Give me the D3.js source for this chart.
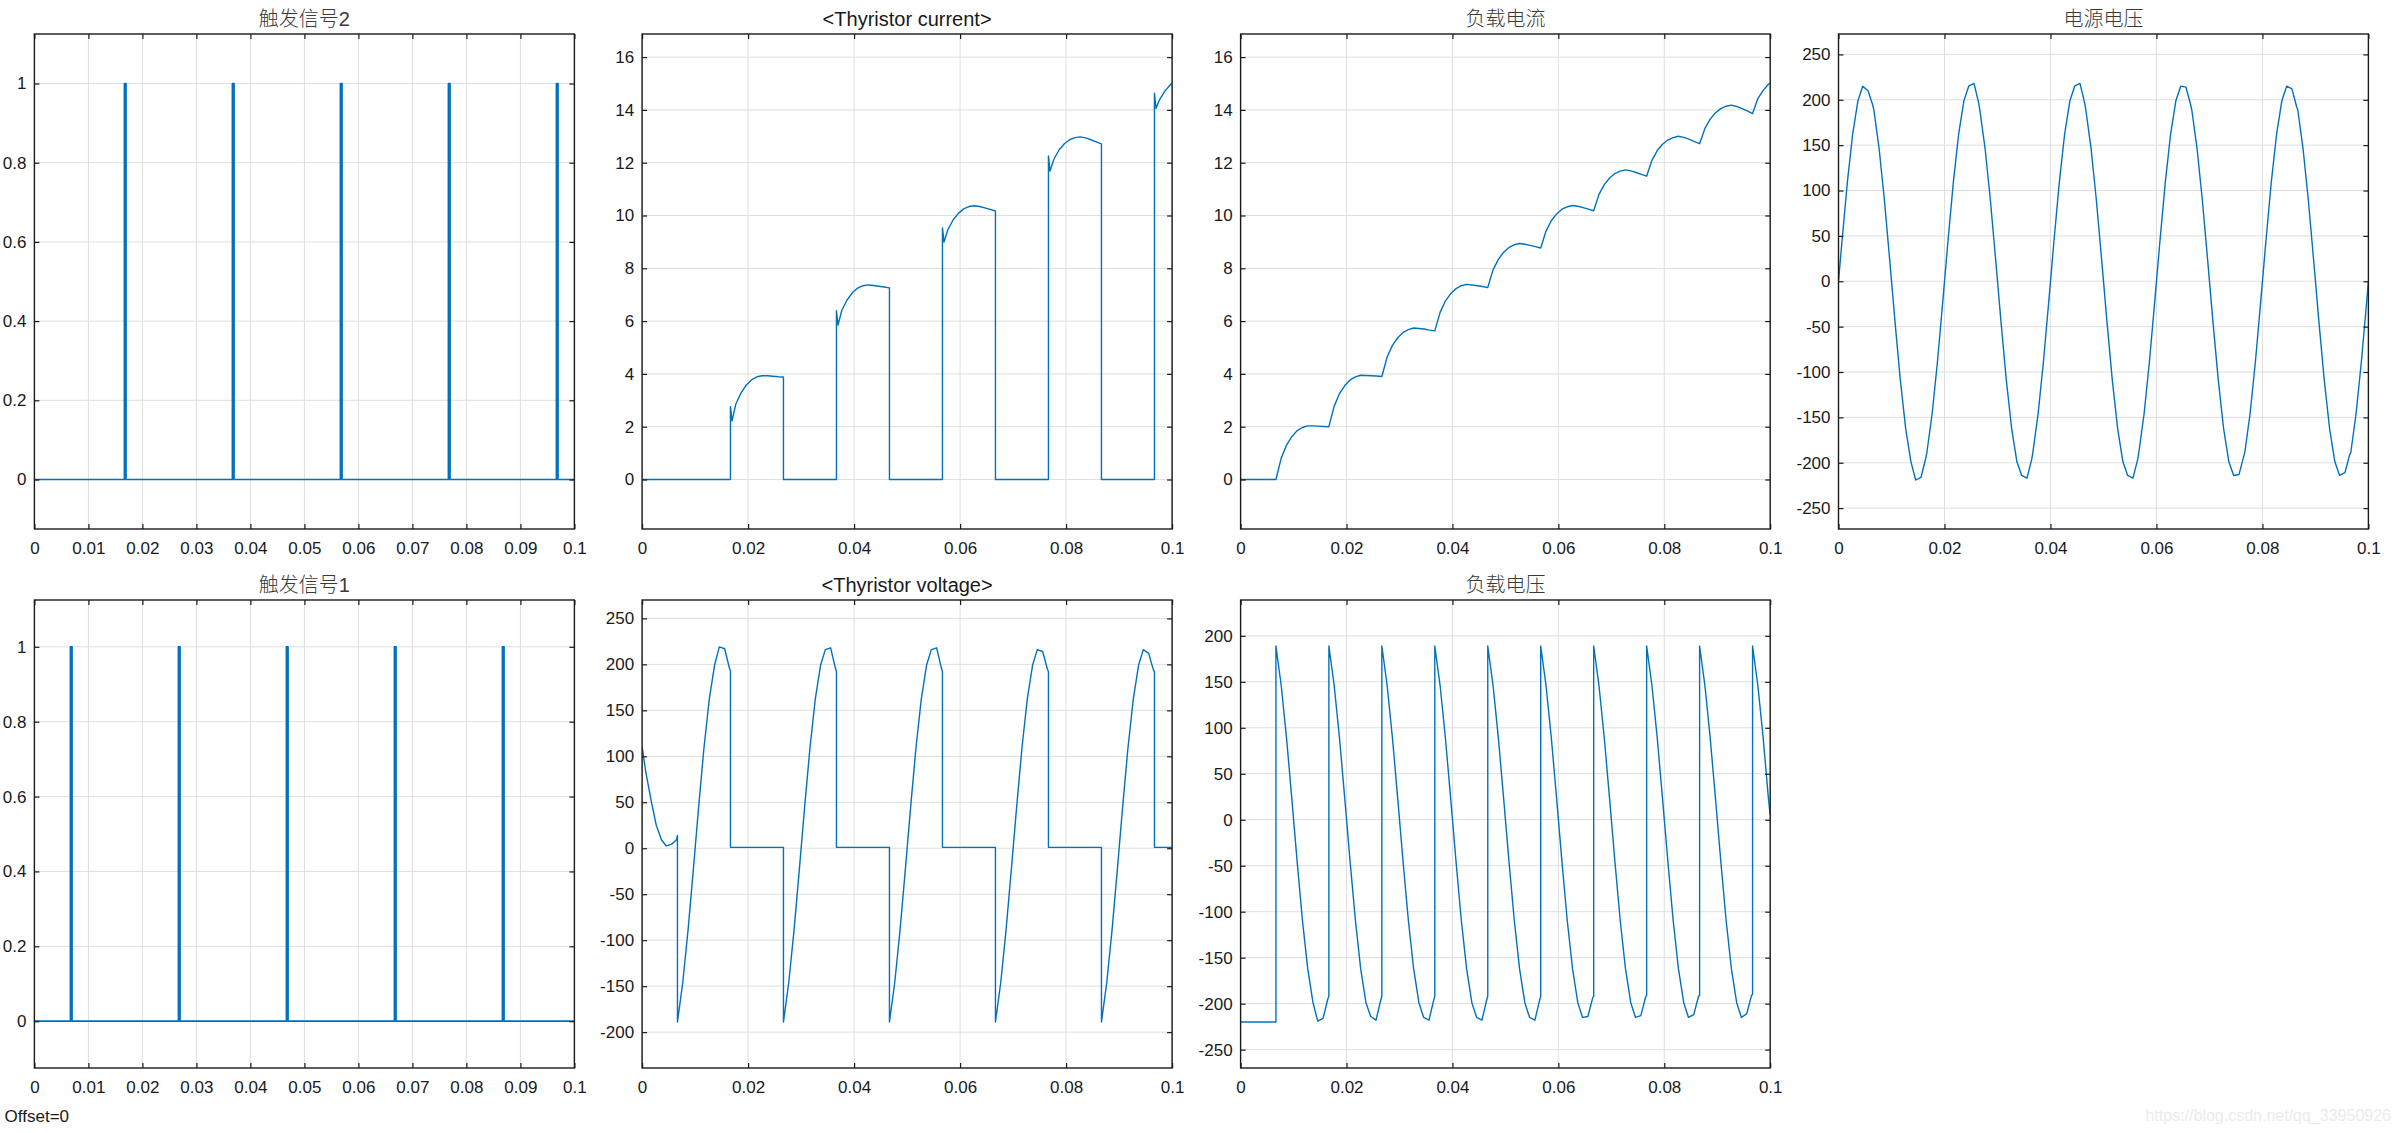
<!DOCTYPE html>
<html><head><meta charset="utf-8">
<script src="https://cdn.jsdelivr.net/npm/d3@7"></script>
<style>
html,body{margin:0;padding:0;background:#fff;}
svg{display:block;}
</style></head><body>
<svg id="c" width="2400" height="1133"></svg>
<script>
// ---------------- DATA ----------------
// Trigger pulses (start times, width and level)
const trig1Start = [0.00667, 0.02667, 0.04667, 0.06667, 0.08667];
const trig2Start = [0.01667, 0.03667, 0.05667, 0.07667, 0.09667];
const pulseWidth = 0.0003;
const pulseHigh = 1;
const pulseLow = 0;

// Source voltage 电源电压
const srcTime = [0, 0.00067, 0.00167, 0.00267, 0.00367, 0.00457, 0.00557, 0.00647,
  0.00667, 0.00767, 0.00867, 0.00967, 0.01067, 0.01167, 0.01267, 0.01367, 0.01457, 0.01557, 0.01647,
  0.01667, 0.01767, 0.01867, 0.01967, 0.02067, 0.02167, 0.02267, 0.02367, 0.02457, 0.02557, 0.02647,
  0.02667, 0.02767, 0.02867, 0.02967, 0.03067, 0.03167, 0.03267, 0.03367, 0.03457, 0.03557, 0.03647,
  0.03667, 0.03767, 0.03867, 0.03967, 0.04067, 0.04167, 0.04267, 0.04367, 0.04457, 0.04557, 0.04647,
  0.04667, 0.04767, 0.04867, 0.04967, 0.05067, 0.05167, 0.05267, 0.05367, 0.05457, 0.05557, 0.05647,
  0.05667, 0.05767, 0.05867, 0.05967, 0.06067, 0.06167, 0.06267, 0.06367, 0.06457, 0.06557, 0.06647,
  0.06667, 0.06767, 0.06867, 0.06967, 0.07067, 0.07167, 0.07267, 0.07367, 0.07457, 0.07557, 0.07647,
  0.07667, 0.07767, 0.07867, 0.07967, 0.08067, 0.08167, 0.08267, 0.08367, 0.08457, 0.08557, 0.08647,
  0.08667, 0.08767, 0.08867, 0.08967, 0.09067, 0.09167, 0.09267, 0.09367, 0.09457, 0.09557, 0.09647,
  0.09667, 0.09767, 0.09867, 0.09967, 0.1];
const srcVolt = [0, 45, 109, 162, 199, 215, 210, 194,
  189, 146, 89, 23, -45, -109, -162, -199, -219, -216, -195,
  -189, -146, -89, -23, 45, 109, 162, 199, 215, 218, 196,
  189, 146, 89, 23, -45, -109, -162, -199, -214, -217, -196,
  -189, -146, -89, -23, 45, 109, 162, 199, 215, 218, 196,
  189, 146, 89, 23, -45, -109, -162, -199, -214, -217, -196,
  -189, -146, -89, -23, 45, 109, 162, 199, 215, 214, 194,
  189, 146, 89, 23, -45, -109, -162, -199, -214, -213, -193,
  -189, -146, -89, -23, 45, 109, 162, 199, 215, 212, 192,
  189, 146, 89, 23, -45, -109, -162, -199, -214, -211, -191,
  -189, -146, -89, -23, 0];

// Thyristor voltage
const thyVTime = [0, 0.00067, 0.00167, 0.00267, 0.00367, 0.00457, 0.00557, 0.00647, 0.00667,
  0.00667, 0.00767, 0.00867, 0.00967, 0.01067, 0.01167, 0.01267, 0.01367, 0.01457, 0.01557, 0.01647, 0.01667,
  0.01667, 0.02667,
  0.02667, 0.02767, 0.02867, 0.02967, 0.03067, 0.03167, 0.03267, 0.03367, 0.03457, 0.03557, 0.03647, 0.03667,
  0.03667, 0.04667,
  0.04667, 0.04767, 0.04867, 0.04967, 0.05067, 0.05167, 0.05267, 0.05367, 0.05457, 0.05557, 0.05647, 0.05667,
  0.05667, 0.06667,
  0.06667, 0.06767, 0.06867, 0.06967, 0.07067, 0.07167, 0.07267, 0.07367, 0.07457, 0.07557, 0.07647, 0.07667,
  0.07667, 0.08667,
  0.08667, 0.08767, 0.08867, 0.08967, 0.09067, 0.09167, 0.09267, 0.09367, 0.09457, 0.09557, 0.09647, 0.09667,
  0.09667, 0.1];
const thyVVolt = [110, 84, 53, 25, 9, 2.5, 4.5, 9, 14,
  -189, -146, -89, -23, 45, 109, 162, 199, 219, 217, 196, 193,
  1, 1,
  -189, -146, -89, -23, 45, 109, 162, 199, 216, 218, 196, 192,
  1, 1,
  -189, -146, -89, -23, 45, 109, 162, 199, 216, 218, 196, 192,
  1, 1,
  -189, -146, -89, -23, 45, 109, 162, 199, 216, 214, 195, 192,
  1, 1,
  -189, -146, -89, -23, 45, 109, 162, 199, 216, 212, 194, 192,
  1, 1];

// Load voltage 负载电压
const loadVTime = [0, 0.00667,
  0.00667, 0.00767, 0.00867, 0.00967, 0.01067, 0.01167, 0.01267, 0.01367, 0.01457, 0.01557, 0.01647, 0.01667,
  0.01667, 0.01767, 0.01867, 0.01967, 0.02067, 0.02167, 0.02267, 0.02367, 0.02457, 0.02557, 0.02647, 0.02667,
  0.02667, 0.02767, 0.02867, 0.02967, 0.03067, 0.03167, 0.03267, 0.03367, 0.03457, 0.03557, 0.03647, 0.03667,
  0.03667, 0.03767, 0.03867, 0.03967, 0.04067, 0.04167, 0.04267, 0.04367, 0.04457, 0.04557, 0.04647, 0.04667,
  0.04667, 0.04767, 0.04867, 0.04967, 0.05067, 0.05167, 0.05267, 0.05367, 0.05457, 0.05557, 0.05647, 0.05667,
  0.05667, 0.05767, 0.05867, 0.05967, 0.06067, 0.06167, 0.06267, 0.06367, 0.06457, 0.06557, 0.06647, 0.06667,
  0.06667, 0.06767, 0.06867, 0.06967, 0.07067, 0.07167, 0.07267, 0.07367, 0.07457, 0.07557, 0.07647, 0.07667,
  0.07667, 0.07767, 0.07867, 0.07967, 0.08067, 0.08167, 0.08267, 0.08367, 0.08457, 0.08557, 0.08647, 0.08667,
  0.08667, 0.08767, 0.08867, 0.08967, 0.09067, 0.09167, 0.09267, 0.09367, 0.09457, 0.09557, 0.09647, 0.09667,
  0.09667, 0.09767, 0.09867, 0.09967, 0.1];
const loadVVolt = [-220, -220,
  189, 146, 89, 23, -45, -109, -162, -199, -219, -216, -195, -192,
  189, 146, 89, 23, -45, -109, -162, -199, -214, -218, -196, -192,
  189, 146, 89, 23, -45, -109, -162, -199, -215, -218, -196, -192,
  189, 146, 89, 23, -45, -109, -162, -199, -215, -218, -196, -192,
  189, 146, 89, 23, -45, -109, -162, -199, -215, -218, -196, -192,
  189, 146, 89, 23, -45, -109, -162, -199, -215, -214, -194, -192,
  189, 146, 89, 23, -45, -109, -162, -199, -215, -213, -193, -191,
  189, 146, 89, 23, -45, -109, -162, -199, -215, -212, -192, -191,
  189, 146, 89, 23, -45, -109, -162, -199, -215, -211, -191, -190,
  189, 146, 89, 23, 5];

// Load current 负载电流
const loadITime = [0, 0.00667, 0.00767, 0.00867, 0.00967, 0.01067, 0.01167, 0.01267, 0.01367, 0.01467, 0.01567,
  0.01667, 0.01767, 0.01867, 0.01967, 0.02067, 0.02167, 0.02267, 0.02367, 0.02467, 0.02567,
  0.02667, 0.02767, 0.02867, 0.02967, 0.03067, 0.03167, 0.03267, 0.03367, 0.03467, 0.03567,
  0.03667, 0.03767, 0.03867, 0.03967, 0.04067, 0.04167, 0.04267, 0.04367, 0.04467, 0.04567,
  0.04667, 0.04767, 0.04867, 0.04967, 0.05067, 0.05167, 0.05267, 0.05367, 0.05467, 0.05567,
  0.05667, 0.05767, 0.05867, 0.05967, 0.06067, 0.06167, 0.06267, 0.06367, 0.06467, 0.06567,
  0.06667, 0.06767, 0.06867, 0.06967, 0.07067, 0.07167, 0.07267, 0.07367, 0.07467, 0.07567,
  0.07667, 0.07767, 0.07867, 0.07967, 0.08067, 0.08167, 0.08267, 0.08367, 0.08467, 0.08567,
  0.08667, 0.08767, 0.08867, 0.08967, 0.09067, 0.09167, 0.09267, 0.09367, 0.09467, 0.09567,
  0.09667, 0.09767, 0.09867, 0.09967, 0.1];
const loadIAmp = [0, 0, 0.81, 1.30, 1.62, 1.85, 1.97, 2.03, 2.03, 2.02, 2.01,
  2.00, 2.78, 3.25, 3.56, 3.77, 3.89, 3.95, 3.94, 3.93, 3.92,
  3.90, 4.64, 5.08, 5.37, 5.57, 5.68, 5.74, 5.72, 5.70, 5.66,
  5.63, 6.33, 6.76, 7.04, 7.23, 7.34, 7.39, 7.37, 7.34, 7.31,
  7.27, 7.94, 8.34, 8.61, 8.79, 8.89, 8.94, 8.91, 8.87, 8.82,
  8.77, 9.41, 9.80, 10.06, 10.24, 10.33, 10.38, 10.35, 10.30, 10.24,
  10.18, 10.80, 11.17, 11.42, 11.59, 11.68, 11.73, 11.69, 11.63, 11.56,
  11.49, 12.09, 12.46, 12.70, 12.86, 12.95, 13.00, 12.96, 12.89, 12.80,
  12.72, 13.30, 13.65, 13.89, 14.05, 14.14, 14.18, 14.13, 14.05, 13.96,
  13.86, 14.43, 14.74, 14.97, 15.02];

// Thyristor current
const thyITime = [0, 0.01667, 0.01667, 0.01697, 0.01767, 0.01867, 0.01967, 0.02067, 0.02167, 0.02267, 0.02367, 0.02467, 0.02567, 0.02667, 0.02667,
  0.03667, 0.03667, 0.03697, 0.03767, 0.03867, 0.03967, 0.04067, 0.04167, 0.04267, 0.04367, 0.04467, 0.04567, 0.04667, 0.04667,
  0.05667, 0.05667, 0.05697, 0.05767, 0.05867, 0.05967, 0.06067, 0.06167, 0.06267, 0.06367, 0.06467, 0.06567, 0.06667, 0.06667,
  0.07667, 0.07667, 0.07697, 0.07767, 0.07867, 0.07967, 0.08067, 0.08167, 0.08267, 0.08367, 0.08467, 0.08567, 0.08667, 0.08667,
  0.09667, 0.09667, 0.09697, 0.09767, 0.09867, 0.09967, 0.1];
const thyIAmp = [0, 0, 2.76, 2.22, 2.85, 3.28, 3.58, 3.78, 3.89, 3.93, 3.93, 3.91, 3.89, 3.88, 0,
  0, 6.39, 5.85, 6.40, 6.80, 7.07, 7.25, 7.34, 7.37, 7.35, 7.32, 7.29, 7.26, 0,
  0, 9.53, 8.99, 9.45, 9.83, 10.08, 10.25, 10.34, 10.37, 10.34, 10.29, 10.23, 10.17, 0,
  0, 12.26, 11.68, 12.12, 12.48, 12.72, 12.87, 12.95, 12.98, 12.94, 12.87, 12.79, 12.71, 0,
  0, 14.63, 14.06, 14.40, 14.72, 14.95, 15.02];

// Axis ticks and labels
const xTicksFine = [0, 0.01, 0.02, 0.03, 0.04, 0.05, 0.06, 0.07, 0.08, 0.09, 0.1];
const xLabelsFine = ["0", "0.01", "0.02", "0.03", "0.04", "0.05", "0.06", "0.07", "0.08", "0.09", "0.1"];
const xTicksCoarse = [0, 0.02, 0.04, 0.06, 0.08, 0.1];
const xLabelsCoarse = ["0", "0.02", "0.04", "0.06", "0.08", "0.1"];
const yTicksTrig = [0, 0.2, 0.4, 0.6, 0.8, 1];
const yLabelsTrig = ["0", "0.2", "0.4", "0.6", "0.8", "1"];
const yTicksCur = [0, 2, 4, 6, 8, 10, 12, 14, 16];
const yLabelsCur = ["0", "2", "4", "6", "8", "10", "12", "14", "16"];
const yTicksSrc = [-250, -200, -150, -100, -50, 0, 50, 100, 150, 200, 250];
const yLabelsSrc = ["-250", "-200", "-150", "-100", "-50", "0", "50", "100", "150", "200", "250"];
const yTicksThyV = [-200, -150, -100, -50, 0, 50, 100, 150, 200, 250];
const yLabelsThyV = ["-200", "-150", "-100", "-50", "0", "50", "100", "150", "200", "250"];
const yTicksLoadV = [-250, -200, -150, -100, -50, 0, 50, 100, 150, 200];
const yLabelsLoadV = ["-250", "-200", "-150", "-100", "-50", "0", "50", "100", "150", "200"];

const titles = ["触发信号2", "<Thyristor current>", "负载电流", "电源电压", "触发信号1", "<Thyristor voltage>", "负载电压"];

// build pulse step series from pulse start times
function pulseSeries(starts) {
  const t = [0], v = [pulseLow];
  starts.forEach(s => {
    t.push(s, s, s + pulseWidth, s + pulseWidth);
    v.push(pulseLow, pulseHigh, pulseHigh, pulseLow);
  });
  t.push(0.1); v.push(pulseLow);
  return {t, v};
}
const trig1 = pulseSeries(trig1Start);
const trig2 = pulseSeries(trig2Start);

// ---------------- LAYOUT ----------------
const cols = [[34.4, 574.4], [642.1, 1172.1], [1240.6, 1770.2], [1838.5, 2368.4]];
const rows = [[34, 529], [600, 1068]];

const panels = [
  {title: titles[0], cjk: true, c: 0, r: 0, yd: [-0.125, 1.125], yt: yTicksTrig, yl: yLabelsTrig, xt: xTicksFine, xl: xLabelsFine, t: trig2.t, v: trig2.v, sw: 1.7},
  {title: titles[1], cjk: false, c: 1, r: 0, yd: [-1.875, 16.875], yt: yTicksCur, yl: yLabelsCur, xt: xTicksCoarse, xl: xLabelsCoarse, t: thyITime, v: thyIAmp, sw: 1.4},
  {title: titles[2], cjk: true, c: 2, r: 0, yd: [-1.875, 16.875], yt: yTicksCur, yl: yLabelsCur, xt: xTicksCoarse, xl: xLabelsCoarse, t: loadITime, v: loadIAmp, sw: 1.4},
  {title: titles[3], cjk: true, c: 3, r: 0, yd: [-273, 272.5], yt: yTicksSrc, yl: yLabelsSrc, xt: xTicksCoarse, xl: xLabelsCoarse, t: srcTime, v: srcVolt, sw: 1.4},
  {title: titles[4], cjk: true, c: 0, r: 1, yd: [-0.125, 1.125], yt: yTicksTrig, yl: yLabelsTrig, xt: xTicksFine, xl: xLabelsFine, t: trig1.t, v: trig1.v, sw: 1.7},
  {title: titles[5], cjk: false, c: 1, r: 1, yd: [-239, 270], yt: yTicksThyV, yl: yLabelsThyV, xt: xTicksCoarse, xl: xLabelsCoarse, t: thyVTime, v: thyVVolt, sw: 1.4},
  {title: titles[6], cjk: true, c: 2, r: 1, yd: [-270, 239], yt: yTicksLoadV, yl: yLabelsLoadV, xt: xTicksCoarse, xl: xLabelsCoarse, t: loadVTime, v: loadVVolt, sw: 1.4}
];

const FONT = "'Liberation Sans', Arial, 'Noto Sans CJK SC', sans-serif";
const svg = d3.select('#c');
svg.append('rect').attr('width', 2400).attr('height', 1133).attr('fill', '#fff');
const defs = svg.append('defs');

panels.forEach((p, i) => {
  const [x0, x1] = cols[p.c];
  const [y0, y1] = rows[p.r];
  const x = d3.scaleLinear().domain([0, 0.1]).range([x0, x1]);
  const y = d3.scaleLinear().domain(p.yd).range([y1, y0]);
  const g = svg.append('g');

  // grid
  g.append('g').selectAll('line').data(p.xt).join('line')
    .attr('x1', d => x(d)).attr('x2', d => x(d)).attr('y1', y0).attr('y2', y1)
    .attr('stroke', '#dfdfdf').attr('stroke-width', 1);
  g.append('g').selectAll('line').data(p.yt).join('line')
    .attr('y1', d => y(d)).attr('y2', d => y(d)).attr('x1', x0).attr('x2', x1)
    .attr('stroke', '#dfdfdf').attr('stroke-width', 1);

  // data line
  const cid = 'clip' + i;
  defs.append('clipPath').attr('id', cid).append('rect')
    .attr('x', x0).attr('y', y0).attr('width', x1 - x0).attr('height', y1 - y0);
  const line = d3.line().x((d, k) => x(p.t[k])).y(d => y(d));
  g.append('path').datum(p.v).attr('d', line)
    .attr('fill', 'none').attr('stroke', '#0072BD').attr('stroke-width', p.sw)
    .attr('stroke-linejoin', 'round')
    .attr('clip-path', `url(#${cid})`);

  // axes
  const styleAxis = s => {
    s.select('.domain').remove();
    s.attr('font-size', 17).attr('font-family', FONT).attr('color', '#1a1a1a');
    s.selectAll('.tick line').attr('stroke-width', 1.2);
  };
  g.append('g').attr('transform', `translate(0,${y1})`)
    .call(d3.axisBottom(x).tickValues(p.xt).tickFormat((d, k) => p.xl[k]).tickSizeInner(-5).tickSizeOuter(0).tickPadding(13))
    .call(styleAxis);
  g.append('g').attr('transform', `translate(0,${y0})`)
    .call(d3.axisTop(x).tickValues(p.xt).tickFormat('').tickSizeInner(-5).tickSizeOuter(0))
    .call(styleAxis);
  g.append('g').attr('transform', `translate(${x0},0)`)
    .call(d3.axisLeft(y).tickValues(p.yt).tickFormat((d, k) => p.yl[k]).tickSizeInner(-5).tickSizeOuter(0).tickPadding(8))
    .call(styleAxis);
  g.append('g').attr('transform', `translate(${x1},0)`)
    .call(d3.axisRight(y).tickValues(p.yt).tickFormat('').tickSizeInner(-5).tickSizeOuter(0))
    .call(styleAxis);

  // box
  g.append('rect').attr('x', x0).attr('y', y0).attr('width', x1 - x0).attr('height', y1 - y0)
    .attr('fill', 'none').attr('stroke', '#1a1a1a').attr('stroke-width', 1.4);

  // title
  g.append('text').attr('x', (x0 + x1) / 2).attr('y', y0 - 15)
    .attr('text-anchor', 'middle').attr('dominant-baseline', 'central')
    .attr('font-family', FONT).attr('font-size', 20)
    .attr('font-weight', p.cjk ? 300 : 400)
    .attr('fill', p.cjk ? '#3a3a3a' : '#1a1a1a')
    .text(p.title);
});

svg.append('text').attr('x', 4.6).attr('y', 1116).attr('dominant-baseline', 'central')
  .attr('font-family', FONT).attr('font-size', 17).attr('fill', '#1a1a1a').text('Offset=0');

svg.append('text').attr('x', 2391).attr('y', 1115).attr('text-anchor', 'end').attr('dominant-baseline', 'central')
  .attr('font-family', FONT).attr('font-size', 16).attr('fill', '#ebebeb').text('https://blog.csdn.net/qq_33950926');
</script>
</body></html>
